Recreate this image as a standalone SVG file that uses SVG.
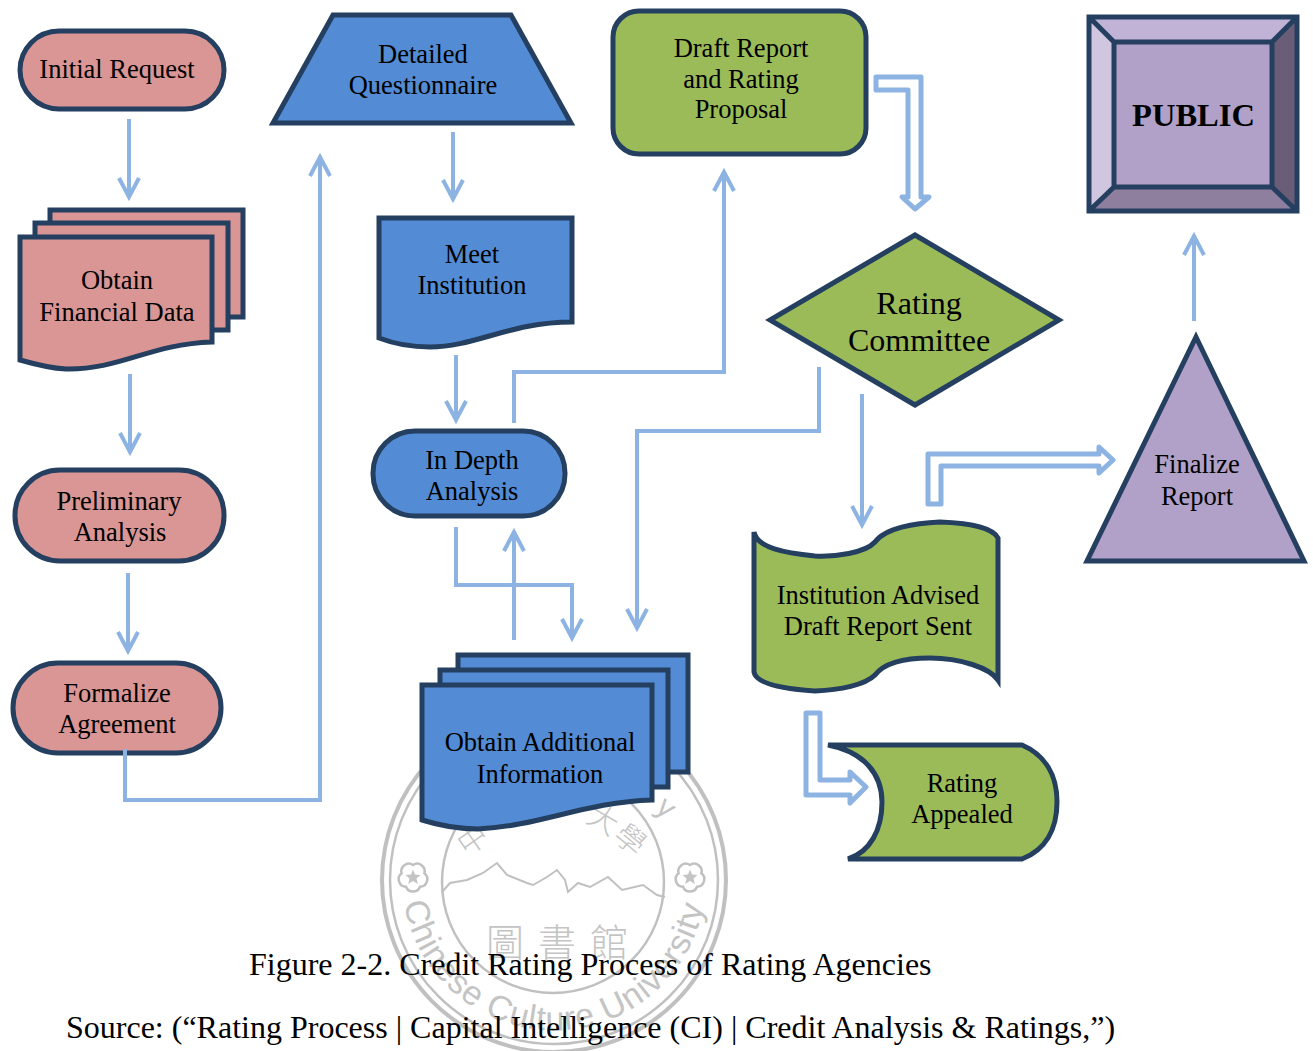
<svg xmlns="http://www.w3.org/2000/svg" width="1313" height="1051" viewBox="0 0 1313 1051">
<style>
text{font-family:"Liberation Serif","Times New Roman",serif;fill:#000;text-anchor:middle}
.l{font-size:26.500px}
.c{font-size:32px;text-anchor:start}
.n{stroke:#243F60;stroke-width:5;stroke-linejoin:miter}
.r{fill:#D99694}.b{fill:#538CD5}.g{fill:#9BBB59}.p{fill:#B1A0C7}
.a{fill:none;stroke:#8DB3E2;stroke-width:4}
.h{fill:none;stroke:#8DB3E2;stroke-width:5;stroke-linejoin:round}
.s{fill:none;stroke:#c0c0c0;stroke-width:2.500}
.st{fill:#c4c4c4;font-family:"Liberation Sans",sans-serif;font-size:34px;text-anchor:start}
.sc{fill:#c4c4c4;font-family:"Noto Sans CJK TC",sans-serif;font-size:30px;font-weight:300}
</style>
<defs>
<marker id="o" markerUnits="userSpaceOnUse" markerWidth="28" markerHeight="24" refX="22" refY="12" orient="auto"><path d="M3 2L22 12L3 22" fill="none" stroke="#8DB3E2" stroke-width="4"/></marker>
<path id="sb" d="M404 903A152 152 0 0 0 704 903"/>
<g id="fl"><path class="s" d="M0-12A7.500 7.500 0 0 1 11.400-3.700A7.500 7.500 0 0 1 7 9.700A7.500 7.500 0 0 1-7 9.700A7.500 7.500 0 0 1-11.400-3.700A7.500 7.500 0 0 1 0-12Z"/><path d="M0-7.500l2 5 5.500.5-4 3.500 1.300 5.500-4.800-3-4.800 3 1.300-5.500-4-3.500 5.500-.5z" fill="#c4c4c4"/></g>
</defs>
<g id="seal">
<circle class="s" cx="554" cy="880" r="172" style="stroke-width:4"/>
<circle class="s" cx="554" cy="880" r="164"/>
<circle class="s" cx="553" cy="882" r="111"/>
<path class="s" style="stroke-width:2" d="M442 892L450 883L467 880L483 873L497 863L507 875L527 883L533 885L547 877L557 870L565 880L568 892L578 883L590 887L608 877L622 890L643 885L657 895L665 897"/>
<text class="st"><textPath href="#sb" startOffset="0" textLength="425" lengthAdjust="spacing">Chinese Culture University</textPath></text>
<text class="sc" x="564" y="956" style="font-size:38px;letter-spacing:14px">圖書館</text>
<text class="sc" x="473" y="850" transform="rotate(-35 473 840)">中</text>
<text class="sc" x="603" y="830" transform="rotate(30 603 820)">大</text>
<text class="sc" x="630" y="850" transform="rotate(40 630 840)">學</text>
<text class="st" x="660" y="812" text-anchor="middle" transform="rotate(40 660 803)" style="font-size:30px">y</text>
<use href="#fl" x="413" y="877"/><use href="#fl" x="690" y="877"/>
</g>
<g id="initial-request"><rect class="n r" x="20" y="31" width="204" height="78" rx="39"/><text class="l" x="117" y="78">Initial Request</text></g>
<g id="obtain-financial-data">
<rect class="n r" x="50" y="210" width="193" height="107"/>
<rect class="n r" x="35" y="223" width="193" height="107"/>
<path class="n r" d="M20 237H212V342C150 344 120 370 66 369C48 368 34 364 20 360Z"/>
<text class="l" x="117" y="289">Obtain</text><text class="l" x="117" y="321">Financial Data</text></g>
<g id="preliminary-analysis"><rect class="n r" x="15" y="470" width="209" height="91" rx="45"/><text class="l" x="119" y="510">Preliminary</text><text class="l" x="120" y="541">Analysis</text></g>
<g id="formalize-agreement"><rect class="n r" x="13" y="663" width="208" height="90" rx="45"/><text class="l" x="117" y="702">Formalize</text><text class="l" x="117" y="733">Agreement</text></g>
<g id="detailed-questionnaire"><path class="n b" d="M333 15H511L571 123H273Z"/><text class="l" x="423" y="63">Detailed</text><text class="l" x="423" y="94">Questionnaire</text></g>
<g id="meet-institution"><path class="n b" d="M379 218H572V322C510 322 475 347 430 347C408 347 392 343 379 338Z"/><text class="l" x="472" y="263">Meet</text><text class="l" x="472" y="294">Institution</text></g>
<g id="in-depth-analysis"><rect class="n b" x="373" y="431" width="192" height="85" rx="42"/><text class="l" x="472" y="469">In Depth</text><text class="l" x="472" y="500">Analysis</text></g>
<g id="obtain-additional-information">
<rect class="n b" x="458" y="655" width="230" height="117"/>
<rect class="n b" x="440" y="670" width="228" height="117"/>
<path class="n b" d="M422 685H652V800C585 802 540 826 478 829C455 829 438 825 422 820Z"/>
<text class="l" x="540" y="751">Obtain Additional</text><text class="l" x="540" y="783">Information</text></g>
<g id="draft-report"><rect class="n g" x="613" y="11" width="253" height="143" rx="26"/><text class="l" x="741" y="57">Draft Report</text><text class="l" x="741" y="88">and Rating</text><text class="l" x="741" y="118">Proposal</text></g>
<g id="rating-committee"><path class="n g" d="M915 235L1059 320L915 405L770 320Z"/><text x="919" y="314" font-size="32">Rating</text><text x="919" y="351" font-size="32">Committee</text></g>
<g id="institution-advised"><path class="n g" d="M754 532C757 548 785 553 815 556C835 557 865 553 875 542C885 528 915 523 940 522C970 523 993 528 998 538V680C990 668 960 658 930 658C905 658 885 662 875 675C865 685 840 690 815 691C785 689 756 684 754 672Z"/><text class="l" x="878" y="604">Institution Advised</text><text class="l" x="878" y="635">Draft Report Sent</text></g>
<g id="rating-appealed"><path class="n g" d="M828 745H1022C1045 755 1057 775 1057 802C1057 830 1045 850 1022 859H848C870 852 882 830 882 802C882 775 865 752 828 745Z"/><text class="l" x="962" y="792">Rating</text><text class="l" x="962" y="823">Appealed</text></g>
<g id="finalize-report"><path class="n p" d="M1196 337L1304 561H1087Z"/><text class="l" x="1197" y="473">Finalize</text><text class="l" x="1197" y="505">Report</text></g>
<g id="public">
<rect x="1089" y="17" width="208" height="194" fill="#B1A0C7"/>
<path d="M1089 17H1297L1272 42H1114Z" fill="#C1B3D5"/>
<path d="M1089 17L1114 42V187L1089 211Z" fill="#D0C6E0"/>
<path d="M1297 17L1272 42V187L1297 211Z" fill="#6A5D77"/>
<path d="M1089 211L1114 187H1272L1297 211Z" fill="#8E7F9F"/>
<path d="M1089 17H1297V211H1089ZM1114 42H1272V187H1114ZM1089 17L1114 42M1297 17L1272 42M1089 211L1114 187M1297 211L1272 187" fill="none" stroke="#243F60" stroke-width="5"/>
<text x="1193.500" y="126" font-size="32.500" font-weight="bold">PUBLIC</text></g>
<g id="connectors">
<path class="a" marker-end="url(#o)" d="M129 119V197"/>
<path class="a" marker-end="url(#o)" d="M130 374V452"/>
<path class="a" marker-end="url(#o)" d="M128 573V651"/>
<path class="a" marker-end="url(#o)" d="M125 749V800H320V157"/>
<path class="a" marker-end="url(#o)" d="M453 132V199"/>
<path class="a" marker-end="url(#o)" d="M456 355V420"/>
<path class="a" marker-end="url(#o)" d="M514 423V372H724V172"/>
<path class="a" marker-end="url(#o)" d="M456 527V585H572V638"/>
<path class="a" marker-end="url(#o)" d="M514 640V532"/>
<path class="a" marker-end="url(#o)" d="M819 367V431H637V628"/>
<path class="a" marker-end="url(#o)" d="M862 394V525"/>
<path class="a" marker-end="url(#o)" d="M1194 321V236"/>
<path class="h" d="M876 77H921V197H929L915 209L902 197H908V90H876Z"/>
<path class="h" d="M928 504V454H1099V447L1113 460L1099 473V466H941V504Z"/>
<path class="h" d="M806 713H820V780H850V772L866 787L850 803V795H806Z"/>
</g>
<g id="caption"><text class="c" x="249" y="975">Figure 2-2. Credit Rating Process of Rating Agencies</text><text class="c" x="66" y="1038">Source: (“Rating Process | Capital Intelligence (CI) | Credit Analysis &amp; Ratings,”)</text></g>
</svg>
